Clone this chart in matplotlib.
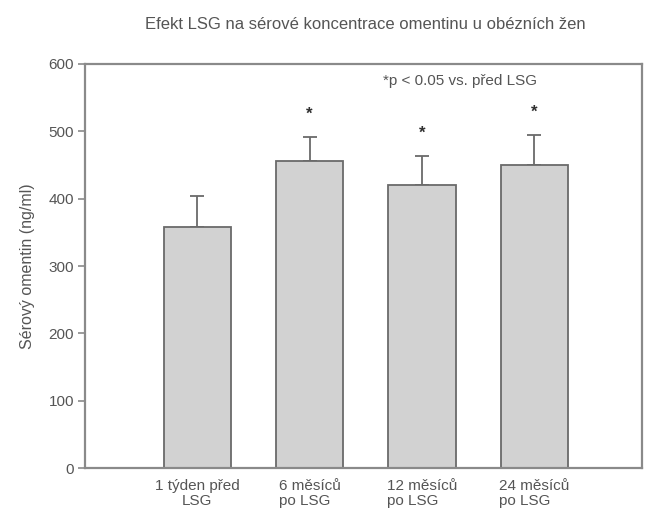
import matplotlib
matplotlib.use("Agg")
import matplotlib.pyplot as plt

plt.rcParams['font.family'] = ['Liberation Sans', 'DejaVu Sans']

# Data
categories = ["1 týden před\nLSG", "6 měsíců\npo LSG", "12 měsíců\npo LSG", "24 měsíců\npo LSG"]
means = [358, 456, 421, 450]
sems = [46, 36, 42, 45]
significant = [False, True, True, True]
yticks = [0, 100, 200, 300, 400, 500, 600]

title = "Efekt LSG na sérové koncentrace omentinu u obézních žen"
ylabel = "Sérový omentin (ng/ml)"
note = "*p < 0.05 vs. před LSG"

text_color = "#555555"
axis_color = "#8a8a8a"
bar_face = "#d2d2d2"
bar_edge = "#6a6a6a"

fig = plt.figure(figsize=(6.46, 5.11), dpi=100)
ax = fig.add_axes([0.1316, 0.0841, 0.9938 - 0.1316, 0.8748 - 0.0841])

x = list(range(1, len(means) + 1))
ax.bar(x, means, width=0.6, color=bar_face, edgecolor=bar_edge, linewidth=1.3, zorder=2)
ax.errorbar(x, means, yerr=[[0] * len(sems), sems], fmt="none", ecolor=bar_edge,
            elinewidth=1.3, capsize=5, capthick=1.3, zorder=1)

# significance markers above the error bars
for xi, m, s, sig in zip(x, means, sems, significant):
    if sig:
        ax.text(xi, m + s + 34, "*", ha="center", va="center", fontsize=12,
                color="#303030", fontweight="bold")

ax.text(3.34, 574, note, ha="center", va="center", fontsize=11, color=text_color)

ax.set_xlim(0, 4.96)
ax.set_ylim(0, 600)
ax.set_yticks(yticks)
ax.set_yticklabels([str(t) for t in yticks], fontsize=11, color=text_color)
ax.set_xticks(x)
labels = ax.set_xticklabels(categories, fontsize=11, color=text_color, linespacing=1.05)
for i, lab in enumerate(labels):
    lab.set_multialignment("center" if i == 0 else "left")

ax.tick_params(axis="y", direction="out", length=5, width=1.2, color=axis_color, pad=3)
ax.tick_params(axis="x", length=0, pad=8)

for sp in ax.spines.values():
    sp.set_color(axis_color)
    sp.set_linewidth(1.6)

ax.set_ylabel(ylabel, fontsize=11.5, color=text_color, labelpad=10)
fig.text(0.565, 0.952, title, ha="center", va="center", fontsize=12, color=text_color)

fig.savefig("out.png", dpi=100)
